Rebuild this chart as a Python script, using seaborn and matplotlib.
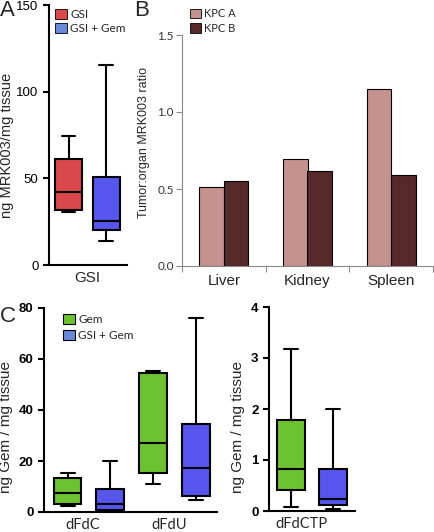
import numpy as np
import pandas as pd
import matplotlib
matplotlib.use("Agg")
import matplotlib.pyplot as plt
from matplotlib.patches import Patch
from matplotlib.ticker import FixedLocator
import seaborn as sns

sns.set_style("ticks")
plt.rcParams['font.family'] = ['Liberation Sans', 'DejaVu Sans']

# ---------------- data ----------------
# five-number summaries: [min, q1, median, q3, max]
a_groups = ["GSI", "GSI + Gem"]
a_category = ["GSI"]
a_gsi = [30.4, 31.7, 42.3, 61.0, 74.4]
a_gsi_gem = [14.0, 20.2, 25.6, 50.6, 115.2]

b_organs = ["Liver", "Kidney", "Spleen"]
b_series = ["KPC A", "KPC B"]
b_kpc_a = [0.514, 0.692, 1.147]
b_kpc_b = [0.551, 0.616, 0.590]

c_groups = ["Gem", "GSI + Gem"]
c_metabolites = ["dFdC", "dFdU"]
c_gem_dfdc = [2.2, 3.3, 7.45, 13.2, 15.4]
c_gsigem_dfdc = [0.3, 0.9, 3.3, 9.0, 20.1]
c_gem_dfdu = [11.0, 15.4, 27.1, 54.5, 55.3]
c_gsigem_dfdu = [4.8, 6.4, 17.4, 34.4, 76.0]

d_metabolite = ["dFdCTP"]
d_gem = [0.08, 0.42, 0.83, 1.78, 3.17]
d_gsigem = [0.03, 0.11, 0.24, 0.82, 2.0]

# ---------------- colours ----------------
RED = "#D9484B"
BLUE = "#5656EE"
LEG_BLUE = "#6A88D8"
GREEN = "#6CC230"
KPCA = "#C6928E"
KPCB = "#55282A"

W, H = 434, 532
fig = plt.figure(figsize=(W / 100, H / 100), dpi=100)


def ax_px(left, right, top, bottom):
    return fig.add_axes([left / W, 1 - bottom / H, (right - left) / W, (bottom - top) / H])


def style_black(ax):
    for s in ["top", "right"]:
        ax.spines[s].set_visible(False)
    for s in ["left", "bottom"]:
        ax.spines[s].set_linewidth(1.5)
        ax.spines[s].set_color("black")
    ax.tick_params(axis="y", direction="out", length=4, width=1.5, colors="black")
    ax.tick_params(axis="x", length=0)


box_kw = dict(whis=(0, 100), showfliers=False, linewidth=1.5, linecolor="black",
              saturation=1, legend=False)
leg_kw = dict(loc="upper left", frameon=False, handlelength=1.0, handleheight=0.9,
              handletextpad=0.3, borderpad=0, borderaxespad=0)

# ---------------- Panel A ----------------
axA = ax_px(49, 127, 5, 265)
dfA = pd.DataFrame({
    "cat": a_category * 10,
    "group": np.repeat(a_groups, 5),
    "v": a_gsi + a_gsi_gem,
})
sns.boxplot(data=dfA, x="cat", y="v", hue="group", hue_order=a_groups,
            palette=[RED, BLUE], width=0.8, gap=0.28, ax=axA, **box_kw)
axA.set_ylim(0, 150)
axA.set_xlim(-0.408, 0.424)
axA.set_yticks([0, 50, 100, 150])
style_black(axA)
axA.tick_params(axis="y", labelsize=9.5)
axA.tick_params(axis="x", labelsize=11, pad=4)
axA.set_xlabel("")
axA.set_ylabel("ng MRK003/mg tissue", fontsize=10.5)
axA.yaxis.set_label_coords(-0.455, 0.46)
axA.legend(handles=[Patch(facecolor=RED, edgecolor="black", linewidth=0.6),
                    Patch(facecolor=LEG_BLUE, edgecolor="black", linewidth=0.6)],
           labels=a_groups, bbox_to_anchor=(0.075, 0.985), labelspacing=0.25,
           prop={"family": "Lato", "size": 8.5}, **leg_kw)

# ---------------- Panel B ----------------
axB = ax_px(182, 433, 35, 266)
dfB = pd.DataFrame({
    "organ": b_organs * 2,
    "series": np.repeat(b_series, 3),
    "ratio": b_kpc_a + b_kpc_b,
})
sns.barplot(data=dfB, x="organ", y="ratio", hue="series", hue_order=b_series,
            palette=[KPCA, KPCB], width=0.584, saturation=1, edgecolor="black",
            linewidth=0.8, errorbar=None, ax=axB, legend=False)
axB.set_ylim(0, 1.5)
axB.set_xlim(-0.5, 2.5)
axB.set_yticks([0, 0.5, 1.0, 1.5])
axB.set_yticklabels(["0.0", "0.5", "1.0", "1.5"], family="Lato", fontsize=8.5, color="#333333")
for s in ["top", "right"]:
    axB.spines[s].set_visible(False)
for s in ["left", "bottom"]:
    axB.spines[s].set_color("#8a8a8a")
    axB.spines[s].set_linewidth(0.8)
axB.tick_params(axis="y", direction="out", length=4, width=0.8, color="#8a8a8a", pad=2)
axB.tick_params(axis="x", which="major", length=0, labelsize=11, pad=6)
axB.xaxis.set_minor_locator(FixedLocator([-0.5, 0.5, 1.5, 2.5]))
axB.tick_params(axis="x", which="minor", direction="out", length=4, width=0.8, color="#8a8a8a")
axB.set_xlabel("")
axB.set_ylabel("Tumor:organ MRK003 ratio", fontsize=9)
axB.yaxis.set_label_coords(-0.127, 0.535)
axB.legend(handles=[Patch(facecolor=KPCA, edgecolor="black", linewidth=0.6),
                    Patch(facecolor=KPCB, edgecolor="black", linewidth=0.6)],
           labels=b_series, bbox_to_anchor=(0.03, 1.115), labelspacing=0.3,
           prop={"family": "Lato", "size": 8}, **leg_kw)

# ---------------- Panel C ----------------
axC = ax_px(44, 217, 308, 512)
dfC = pd.DataFrame({
    "met": np.repeat(c_metabolites * 2, 5),
    "group": np.repeat(c_groups, 10),
    "v": c_gem_dfdc + c_gem_dfdu + c_gsigem_dfdc + c_gsigem_dfdu,
})
sns.boxplot(data=dfC, x="met", y="v", hue="group", hue_order=c_groups,
            order=c_metabolites, palette=[GREEN, BLUE], width=1.0, gap=0.35,
            ax=axC, **box_kw)
axC.set_ylim(0, 80)
axC.set_xlim(-0.526, 1.497)
axC.set_yticks([0, 20, 40, 60, 80])
style_black(axC)
axC.tick_params(axis="y", labelsize=9.5)
for t in axC.get_yticklabels():
    t.set_fontweight("bold")
axC.set_xticks([-0.07, 0.94])
axC.set_xticklabels(c_metabolites, family="Lato", fontsize=10.5)
axC.tick_params(axis="x", pad=4)
axC.set_xlabel("")
axC.set_ylabel("ng Gem / mg tissue", fontsize=11)
axC.yaxis.set_label_coords(-0.179, 0.417)
axC.legend(handles=[Patch(facecolor=GREEN, edgecolor="black", linewidth=0.8),
                    Patch(facecolor=LEG_BLUE, edgecolor="black", linewidth=0.8)],
           labels=c_groups, bbox_to_anchor=(0.11, 0.97), labelspacing=0.4,
           prop={"family": "Lato", "size": 8.5}, **leg_kw)

# ---------------- Panel D ----------------
axD = ax_px(269, 355, 307, 511)
dfD = pd.DataFrame({
    "met": d_metabolite * 10,
    "group": np.repeat(c_groups, 5),
    "v": d_gem + d_gsigem,
})
sns.boxplot(data=dfD, x="met", y="v", hue="group", hue_order=c_groups,
            palette=[GREEN, BLUE], width=1.0, gap=0.33, ax=axD, **box_kw)
axD.set_ylim(0, 4)
axD.set_xlim(-0.512, 0.512)
axD.set_yticks([0, 1, 2, 3, 4])
style_black(axD)
axD.tick_params(axis="y", labelsize=9.5)
for t in axD.get_yticklabels():
    t.set_fontweight("bold")
axD.set_xticks([-0.12])
axD.set_xticklabels(d_metabolite, family="Lato", fontsize=10.5)
axD.tick_params(axis="x", pad=4)
axD.set_xlabel("")
axD.set_ylabel("ng Gem / mg tissue", fontsize=11)
axD.yaxis.set_label_coords(-0.28, 0.41)

# ---------------- panel letters ----------------
fig.text(0 / W, 1 - 0 / H, "A", fontsize=16, va="top", ha="left")
fig.text(134 / W, 1 - 0 / H, "B", fontsize=16, va="top", ha="left")
fig.text(0 / W, 1 - 306 / H, "C", fontsize=16, va="top", ha="left")

fig.savefig("out.png", dpi=100)
